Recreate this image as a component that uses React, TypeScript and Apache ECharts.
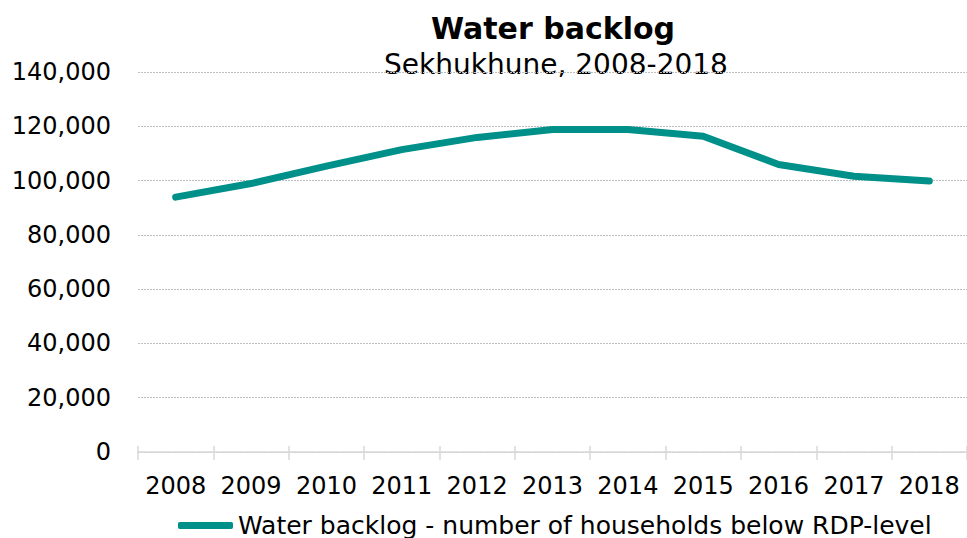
import React, { useEffect, useRef } from "react";
import * as echarts from "echarts";

const years = ["2008", "2009", "2010", "2011", "2012", "2013", "2014", "2015", "2016", "2017", "2018"];
const backlog = [93900, 98900, 105300, 111400, 115900, 118800, 118800, 116300, 105900, 101600, 99800];
const seriesName = "Water backlog - number of households below RDP-level";
const titleText = "Water backlog";
const subtitleText = "Sekhukhune, 2008-2018";

const FONT = "'DejaVu Sans', Verdana, sans-serif";

export default function App() {
  const ref = useRef<HTMLDivElement>(null);
  useEffect(() => {
    if (!ref.current) return;
    const chart = echarts.init(ref.current, undefined, { renderer: "svg" });
    chart.setOption({
      animation: false,
      backgroundColor: "#ffffff",
      textStyle: { fontFamily: FONT },
      graphic: [
        {
          type: "text",
          x: 553,
          y: 28,
          style: {
            text: titleText,
            fontFamily: FONT,
            fontSize: 30,
            fontWeight: "bold",
            fill: "#000",
            align: "center",
            verticalAlign: "middle",
          },
        },
        {
          type: "text",
          x: 556,
          y: 64.5,
          style: {
            text: subtitleText,
            fontFamily: FONT,
            fontSize: 28,
            fill: "#000",
            align: "center",
            verticalAlign: "middle",
          },
        },
      ],
      legend: {
        left: 173,
        top: 508,
        itemWidth: 55,
        itemHeight: 7,
        icon: "roundRect",
        textStyle: { fontFamily: FONT, fontSize: 25, color: "#000" },
        data: [seriesName],
      },
      grid: { left: 138, right: 0, top: 72, bottom: 86, containLabel: false },
      xAxis: [
        {
          type: "category",
          data: years,
          boundaryGap: true,
          axisLine: { show: true, lineStyle: { color: "#d9d9d9", width: 1.5 } },
          axisTick: { show: true, interval: 0, length: 8, lineStyle: { color: "#d9d9d9", width: 1.5 } },
          axisLabel: { interval: 0, fontFamily: FONT, fontSize: 24, color: "#000", margin: 22 },
          splitLine: { show: false },
        },
        {
          type: "category",
          data: years,
          position: "bottom",
          boundaryGap: true,
          axisLine: { show: false },
          axisTick: { show: true, interval: 0, inside: true, length: 6, lineStyle: { color: "#d9d9d9", width: 1.5 } },
          axisLabel: { show: false },
          splitLine: { show: false },
        },
      ],
      yAxis: {
        type: "value",
        min: 0,
        max: 140000,
        interval: 20000,
        axisLine: { show: false },
        axisTick: { show: false },
        axisLabel: {
          fontFamily: FONT,
          fontSize: 24,
          color: "#000",
          margin: 27,
          formatter: (v: number) => v.toLocaleString("en-US"),
        },
        splitLine: { show: true, lineStyle: { color: "#bfbfbf", width: 1, type: [2, 1] } },
      },
      series: [
        {
          name: seriesName,
          type: "line",
          data: backlog,
          symbol: "none",
          smooth: false,
          color: "#00908A",
          lineStyle: { color: "#00908A", width: 7, cap: "round", join: "round" },
          itemStyle: { color: "#00908A" },
        },
      ],
    });
    return () => chart.dispose();
  }, []);
  return (
    <div
      ref={ref}
      style={{ position: "absolute", left: 0, top: 0, width: 967, height: 538 }}
    />
  );
}
